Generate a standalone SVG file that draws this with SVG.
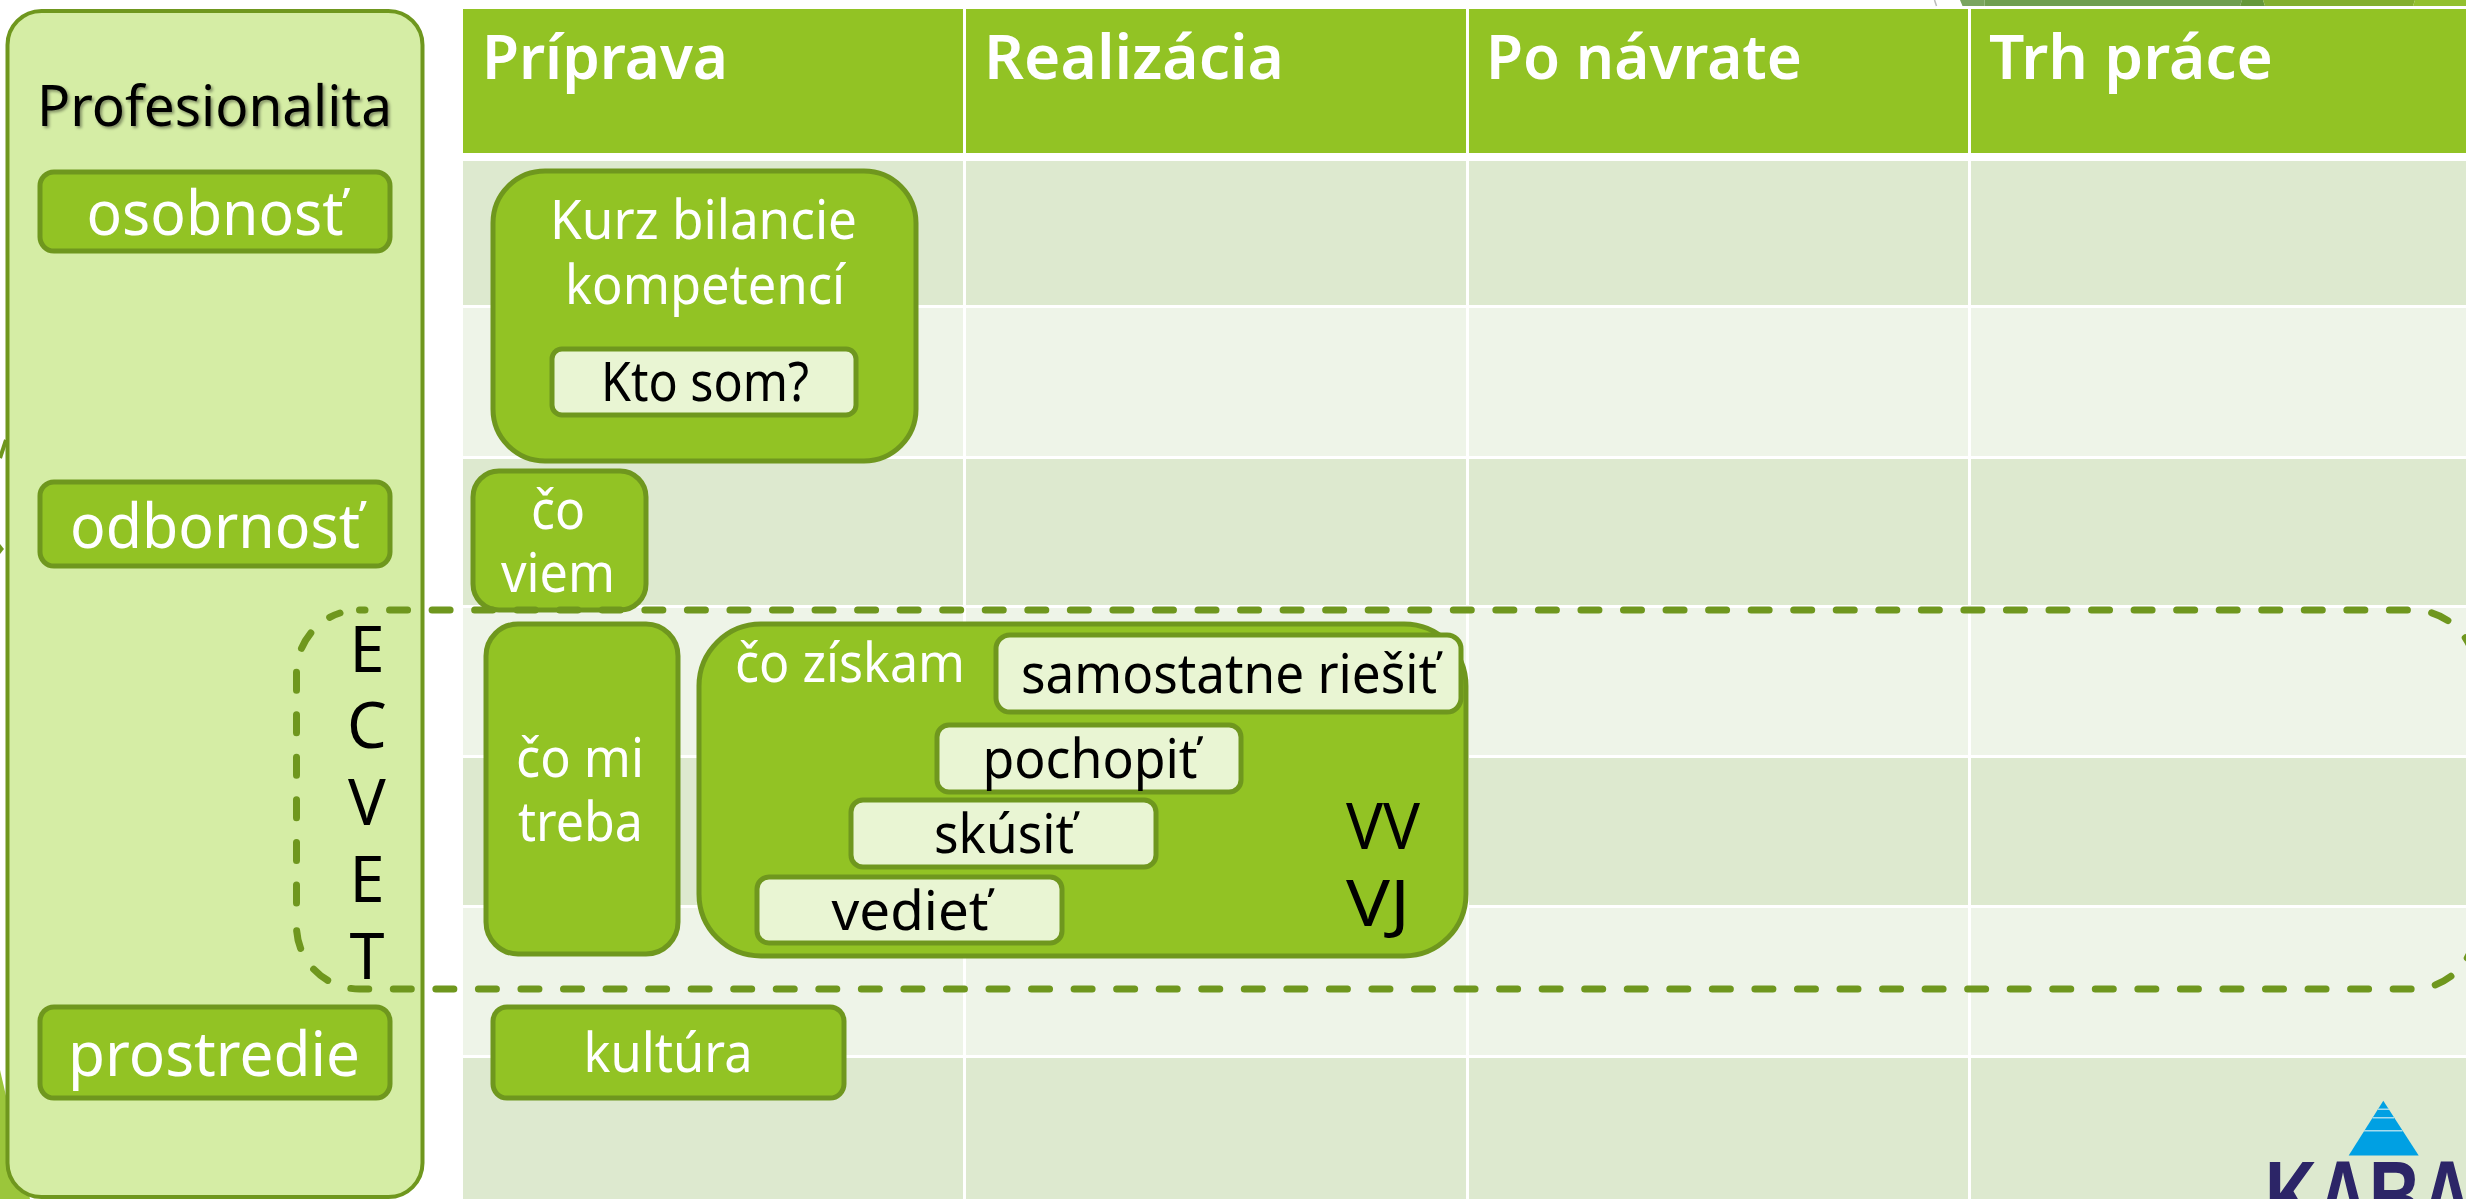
<svg xmlns="http://www.w3.org/2000/svg" width="2466" height="1199" viewBox="0 0 2466 1199">
<defs>
<style>
text{font-family:"Noto Sans","Open Sans","DejaVu Sans",sans-serif}
.n{fill:#92C324;stroke:#6F971E;stroke-width:5}
.w{fill:#E9F5D3;stroke:#6F971E;stroke-width:5}
.d{fill:#DDE9CF}.l{fill:#EEF4E8}
.h{fill:#92C324}
.ht{fill:#fff;font-size:62px;font-weight:600}
.t{fill:#fff;font-size:54px;text-anchor:middle}
.b{fill:#000;font-size:54px;text-anchor:middle}
.big{fill:#fff;font-size:62px;text-anchor:middle}
.e{fill:#000;font-size:63px;text-anchor:middle}
.dash{fill:none;stroke:#6F971E;stroke-width:7;stroke-linecap:round;stroke-dasharray:18 24.550}
</style>
<filter id="sh" x="-5%" y="-20%" width="110%" height="140%"><feDropShadow dx="2" dy="2" stdDeviation="1.5" flood-color="#000" flood-opacity=".4"/></filter>
</defs>
<rect width="2466" height="1199" fill="#fff"/>
<g id="decor">
<polygon points="1960,0 1984.500,0 1984.500,6 1962.500,6" fill="#7AA55F"/>
<polygon points="1984.500,0 2242,0 2240,6 1984.500,6" fill="#6F9E50"/>
<polygon points="2242,0 2263,0 2265,6 2240,6" fill="#65983A"/>
<polygon points="2263,0 2415,0 2413,6 2265,6" fill="#84AF2F"/>
<polygon points="2415,0 2466,0 2466,6 2413,6" fill="#93C02F"/>
<path d="M1934.500 0L1936.500 6" stroke="#bbb" stroke-width="1.500" fill="none"/>
<polygon points="0,1070 30,1199 0,1199" fill="#9BC63B"/>
<path d="M6 440L0 458" stroke="#6F971E" stroke-width="4" fill="none"/>
<polygon points="0,544 4,549 0,554" fill="#6F971E"/>
</g>
<g id="table">
<rect class="h" x="463" y="9" width="500" height="144"/>
<rect class="h" x="966" y="9" width="500" height="144"/>
<rect class="h" x="1469" y="9" width="499" height="144"/>
<rect class="h" x="1971" y="9" width="495" height="144"/>
<g id="rows">
<rect class="d" x="463" y="161" width="2003" height="144"/>
<rect class="l" x="463" y="308" width="2003" height="148"/>
<rect class="d" x="463" y="459" width="2003" height="146"/>
<rect class="l" x="463" y="608" width="2003" height="147"/>
<rect class="d" x="463" y="758" width="2003" height="147"/>
<rect class="l" x="463" y="908" width="2003" height="147"/>
<rect class="d" x="463" y="1058" width="2003" height="141"/>
<path d="M964.500 161V1199M1467.500 161V1199M1969.500 161V1199" stroke="#fff" stroke-width="3"/>
</g>
<text class="ht" x="482" y="79" textLength="246" lengthAdjust="spacingAndGlyphs">Príprava</text>
<text class="ht" x="984" y="79" textLength="300" lengthAdjust="spacingAndGlyphs">Realizácia</text>
<text class="ht" x="1486" y="79" textLength="316" lengthAdjust="spacingAndGlyphs">Po návrate</text>
<text class="ht" x="1989" y="79" textLength="284" lengthAdjust="spacingAndGlyphs">Trh práce</text>
</g>
<g id="profesionalita">
<rect x="7.500" y="11" width="415" height="1186" rx="34" fill="#D5EDA5" stroke="#6F971E" stroke-width="4"/>
<text x="214.500" y="126" font-size="57" text-anchor="middle" fill="#000" filter="url(#sh)" textLength="355" lengthAdjust="spacingAndGlyphs">Profesionalita</text>
</g>
<g id="osobnost"><rect class="n" x="40" y="172" width="350" height="79" rx="14"/><text class="big" x="215" y="235" textLength="257" lengthAdjust="spacingAndGlyphs">osobnosť</text></g>
<g id="odbornost"><rect class="n" x="40" y="482" width="350" height="84" rx="14"/><text class="big" x="215" y="548" textLength="290" lengthAdjust="spacingAndGlyphs">odbornosť</text></g>
<g id="prostredie"><rect class="n" x="40" y="1007" width="350" height="91" rx="14"/><text class="big" x="214" y="1076" textLength="292" lengthAdjust="spacingAndGlyphs">prostredie</text></g>
<g id="kurz"><rect class="n" x="493" y="171" width="423" height="290" rx="52"/><text class="t" x="703.500" y="239" textLength="307" lengthAdjust="spacingAndGlyphs">Kurz bilancie</text><text class="t" x="705" y="304" textLength="280" lengthAdjust="spacingAndGlyphs">kompetencí</text></g>
<g id="kto"><rect class="w" x="552" y="349" width="304" height="66" rx="10"/><text class="b" x="705" y="401" textLength="208" lengthAdjust="spacingAndGlyphs">Kto som?</text></g>
<g id="coviem"><rect class="n" x="473" y="471" width="173" height="139" rx="26"/><text class="t" x="558" y="529" textLength="54" lengthAdjust="spacingAndGlyphs">čo</text><text class="t" x="558" y="592" textLength="114" lengthAdjust="spacingAndGlyphs">viem</text></g>
<g id="comitreba"><rect class="n" x="486" y="624" width="192" height="330" rx="32"/><text class="t" x="580" y="777" textLength="128" lengthAdjust="spacingAndGlyphs">čo mi</text><text class="t" x="580.500" y="841" textLength="125" lengthAdjust="spacingAndGlyphs">treba</text></g>
<g id="coziskam"><rect class="n" x="699" y="624" width="767" height="332" rx="62"/><text class="t" x="850" y="682" textLength="230" lengthAdjust="spacingAndGlyphs">čo získam</text></g>
<g id="samostatne"><rect class="w" x="996" y="635" width="465" height="77" rx="14"/><text class="b" x="1229" y="693" textLength="416" lengthAdjust="spacingAndGlyphs">samostatne riešiť</text></g>
<g id="pochopit"><rect class="w" x="937" y="725" width="304" height="67" rx="12"/><text class="b" x="1090" y="778" textLength="215" lengthAdjust="spacingAndGlyphs">pochopiť</text></g>
<g id="skusit"><rect class="w" x="851" y="800" width="305" height="67" rx="12"/><text class="b" x="1004" y="853" textLength="140" lengthAdjust="spacingAndGlyphs">skúsiť</text></g>
<g id="vediet"><rect class="w" x="757" y="877" width="305" height="66" rx="12"/><text class="b" x="910" y="930" textLength="157" lengthAdjust="spacingAndGlyphs">vedieť</text></g>
<g id="vv"><text x="1346" y="849" font-size="64" fill="#000" textLength="74" lengthAdjust="spacingAndGlyphs">VV</text><text x="1346" y="926" font-size="64" fill="#000" textLength="64" lengthAdjust="spacingAndGlyphs">VJ</text></g>
<g id="kultura"><rect class="n" x="493" y="1007" width="351" height="91" rx="14"/><text class="t" x="668" y="1072" textLength="169" lengthAdjust="spacingAndGlyphs">kultúra</text></g>
<g id="ecvet">
<text class="e" x="367" y="672">E</text><text class="e" x="367" y="748">C</text><text class="e" x="367" y="825">V</text><text class="e" x="367" y="902">E</text><text class="e" x="367" y="979">T</text>
</g>
<g id="connectors">
<path class="dash" stroke-dashoffset="12.500" d="M359.500 610H2413A63 63 0 0 1 2476 673V799"/>
<path class="dash" stroke-dashoffset="27" d="M2476 926A63 63 0 0 1 2413 989H359.500A63 63 0 0 1 296.500 926"/>
<path class="dash" stroke-dashoffset="19.500" d="M296.500 926V673A63 63 0 0 1 340 613"/>
</g>
<g id="logo">
<polygon points="2383.300,1100.700 2418.700,1155.500 2348.700,1155.500" fill="#00A0E3"/>
<path d="M2378 1109.300H2389M2372.500 1117.700H2394M2364 1130.700H2402.500" stroke="#A5DBEE" stroke-width="1.500"/>
<text transform="translate(2265 1231) scale(1 1.4)" font-size="72" font-weight="700" fill="#2C2567" style="font-family:'Liberation Sans',sans-serif">KABA</text>
</g>
</svg>
